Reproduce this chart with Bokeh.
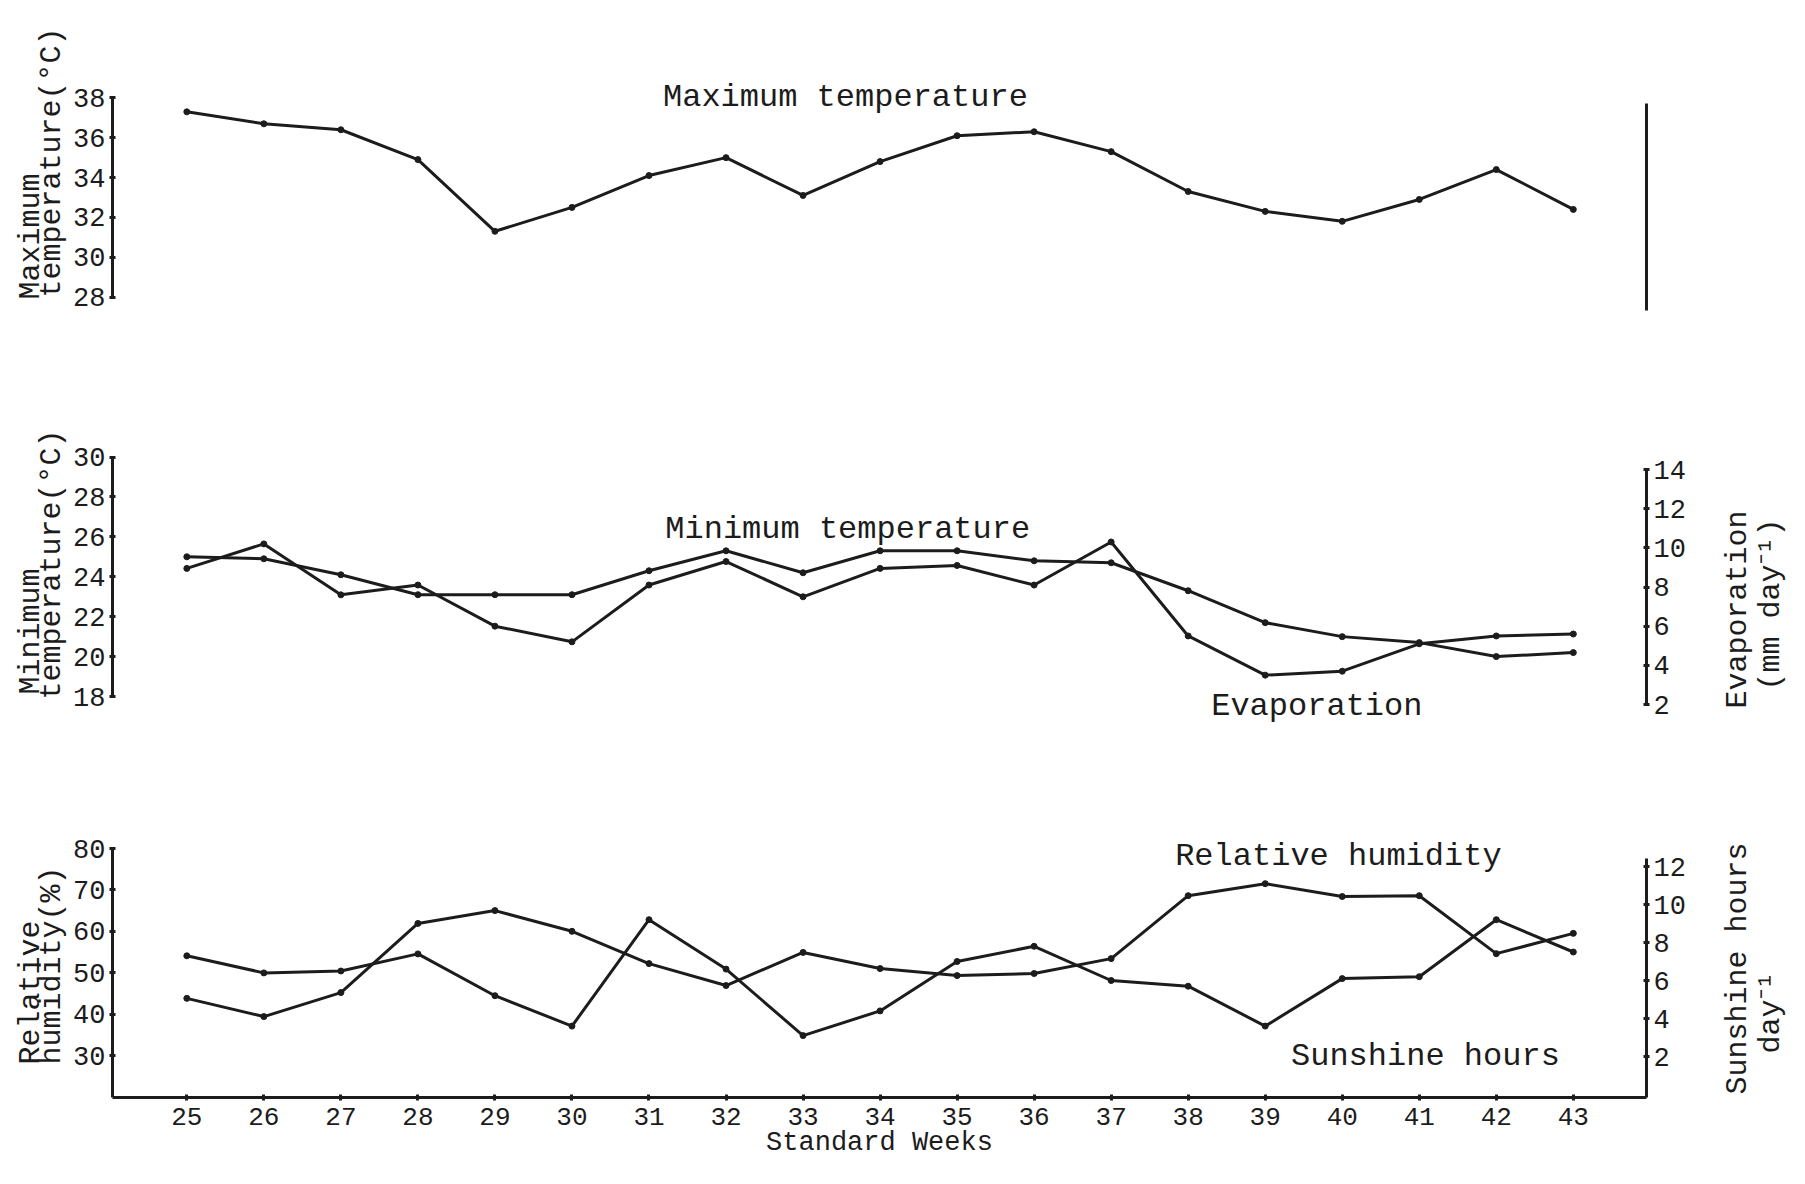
import math
from bokeh.plotting import figure
from bokeh.models import Range1d, LinearAxis, FixedTicker, Label
from bokeh.layouts import column, row
from bokeh.embed import file_html
from bokeh.resources import INLINE

# ---------------- data ----------------
weeks = list(range(25, 44))
week_ticks = weeks
max_temp = [37.3, 36.7, 36.4, 34.9, 31.3, 32.5, 34.1, 35.0, 33.1, 34.8,
            36.1, 36.3, 35.3, 33.3, 32.3, 31.8, 32.9, 34.4, 32.4]
min_temp = [25.0, 24.9, 24.1, 23.1, 23.1, 23.1, 24.3, 25.3, 24.2, 25.3,
            25.3, 24.8, 24.7, 23.3, 21.7, 21.0, 20.7, 20.0, 20.2]
evaporation = [8.95, 10.2, 7.6, 8.1, 6.0, 5.2, 8.1, 9.3, 7.5, 8.95,
               9.1, 8.1, 10.3, 5.5, 3.5, 3.7, 5.1, 5.5, 5.6]
rel_humidity = [43.8, 39.4, 45.2, 61.9, 65.0, 60.0, 52.2, 46.9, 54.9, 51.0,
                49.3, 49.8, 53.4, 68.6, 71.5, 68.4, 68.6, 54.6, 59.5]
sunshine = [7.3, 6.4, 6.5, 7.4, 5.2, 3.6, 9.2, 6.6, 3.1, 4.4,
            7.0, 7.8, 6.0, 5.7, 3.6, 6.1, 6.2, 9.2, 7.5]

max_ticks = [28, 30, 32, 34, 36, 38]
min_ticks = [18, 20, 22, 24, 26, 28, 30]
evap_ticks = [2, 4, 6, 8, 10, 12, 14]
rh_ticks = [30, 40, 50, 60, 70, 80]
sun_ticks = [2, 4, 6, 8, 10, 12]

# ---------------- layout / style ----------------
FONT = "Liberation Mono"
INK = "#1c1c1c"
TICK_FS = "27px"
TXT_FS = "32px"
VT_FS = "30px"                     # rotated axis titles
LW, MW, RW = 70, 1637, 82          # side strips and main plot widths
BL, BR = 41, 61                    # main plot side borders
S = 4                               # whole chart lifted by S px to fit the window
x_range = Range1d(24.035, 43.95)

# rows: (page top, height, border top, border bottom)
ROWS = [(8, 386, 2, 2), (394, 360, 2, 2), (754, 422, 2, 71)]


def frame_of(i):
    top, h, bt, bb = ROWS[i]
    return top + bt, top + h - bb


def rng(v1, y1, v2, y2, i):
    """axis range for row i so that value v1 sits at page y1 and v2 at y2"""
    ft, fb = frame_of(i)
    y1, y2 = y1 - S, y2 - S
    k = (v2 - v1) / (y2 - y1)
    return Range1d(v1 + (fb - y1) * k, v1 + (ft - y1) * k)


def style_axis(ax, ticks, bounds, show_labels=True):
    ax.ticker = FixedTicker(ticks=ticks)
    ax.bounds = bounds
    ax.axis_line_color = INK
    ax.axis_line_width = 3
    ax.major_tick_line_color = INK
    ax.major_tick_line_width = 3
    ax.major_tick_in = 3
    ax.major_tick_out = 3
    ax.minor_tick_line_color = None
    ax.major_label_text_font = FONT
    ax.major_label_text_font_size = TICK_FS
    ax.major_label_text_color = INK
    ax.major_label_standoff = 4
    if not show_labels:
        ax.major_label_text_alpha = 0


def base_fig(i, yr, xaxis=False):
    top, h, bt, bb = ROWS[i]
    p = figure(width=MW, height=h, x_range=x_range, y_range=yr,
               output_backend="svg", toolbar_location=None,
               min_border_left=BL, min_border_right=BR,
               min_border_top=bt, min_border_bottom=bb,
               x_axis_location="below" if xaxis else None,
               y_axis_location="left")
    p.outline_line_color = None
    p.xgrid.visible = False
    p.ygrid.visible = False
    p.border_fill_color = "white"
    return p


def side_fig(i, w, x0, x1):
    # blank strip carrying rotated axis titles, in page-pixel coordinates
    top, h, bt, bb = ROWS[i]
    ft, fb = frame_of(i)
    p = figure(width=w, height=h, x_range=Range1d(x0, x1),
               y_range=Range1d(fb + S, ft + S),
               output_backend="svg", toolbar_location=None,
               x_axis_location=None, y_axis_location=None,
               min_border_left=0, min_border_right=0,
               min_border_top=bt, min_border_bottom=bb)
    p.outline_line_color = None
    p.xgrid.visible = False
    p.ygrid.visible = False
    return p


def txt(p, x, y, s, angle=0.0, align="center", fs=TXT_FS, dy=-9, y_range_name="default"):
    p.add_layout(Label(x=x, y=y, text=s, angle=angle, text_align=align,
                       text_baseline="middle", text_font=FONT,
                       text_font_size=fs, text_color=INK, y_offset=dy,
                       y_range_name=y_range_name))


def vtxt(p, x, y, s):
    txt(p, x, y, s, angle=math.pi / 2, align="left", fs=VT_FS, dy=0)


def series(p, xs, ys, y_range_name="default"):
    p.line(xs, ys, line_color=INK, line_width=3, line_join="round",
           y_range_name=y_range_name)
    p.scatter(xs, ys, size=6, color=INK, y_range_name=y_range_name)


# ---------------- panel 1: maximum temperature ----------------
p1 = base_fig(0, rng(38, 109.4, 28, 308.5, 0))
style_axis(p1.yaxis[0], max_ticks, (28, 38))
r1 = LinearAxis()
style_axis(r1, [], (27.3, 37.7), show_labels=False)
p1.add_layout(r1, "right")
series(p1, weeks, max_temp)
txt(p1, 33.55, 38.47, "Maximum temperature")
l1 = side_fig(0, LW, 8, 78)
vtxt(l1, 38, 311, "Maximum")
vtxt(l1, 59, 309, "temperature(°C)")
s1 = side_fig(0, RW, 1715, 1797)

# ---------------- panel 2: minimum temperature & evaporation ----------------
p2 = base_fig(1, rng(30, 468.5, 18, 708, 1))
p2.extra_y_ranges = {"evap": rng(14, 481, 2, 716, 1)}
style_axis(p2.yaxis[0], min_ticks, (18, 30))
r2 = LinearAxis(y_range_name="evap")
style_axis(r2, evap_ticks, (2, 14))
p2.add_layout(r2, "right")
series(p2, weeks, min_temp)
series(p2, weeks, evaporation, y_range_name="evap")
txt(p2, 33.58, 26.82, "Minimum temperature")
txt(p2, 39.67, 17.95, "Evaporation")
l2 = side_fig(1, LW, 8, 78)
vtxt(l2, 38, 706, "Minimum")
vtxt(l2, 59, 711, "temperature(°C)")
s2 = side_fig(1, RW, 1715, 1797)
vtxt(s2, 1745, 720, "Evaporation")
vtxt(s2, 1778, 702, "(mm day⁻¹)")

# ---------------- panel 3: relative humidity & sunshine ----------------
p3 = base_fig(2, rng(80, 860, 30, 1067, 2), xaxis=True)
p3.extra_y_ranges = {"sun": rng(12, 878, 2, 1068, 2)}
style_axis(p3.yaxis[0], rh_ticks, (19, 80))
r3 = LinearAxis(y_range_name="sun")
style_axis(r3, sun_ticks, (-1, 12.4))
p3.add_layout(r3, "right")
xa = p3.xaxis[0]
style_axis(xa, week_ticks, (24.035, 43.95))
xa.major_label_text_font_size = "26px"
xa.major_label_standoff = 7
xa.axis_label = "Standard Weeks"
xa.axis_label_standoff = 0
xa.axis_label_text_font = FONT
xa.axis_label_text_font_size = "27px"
xa.axis_label_text_font_style = "normal"
xa.axis_label_text_color = INK
series(p3, weeks, rel_humidity)
series(p3, weeks, sunshine, y_range_name="sun")
txt(p3, 39.95, 80.2, "Relative humidity")
txt(p3, 41.08, 31.9, "Sunshine hours")
l3 = side_fig(2, LW, 8, 78)
vtxt(l3, 38, 1076, "Relative")
vtxt(l3, 59, 1076, "humidity(%)")
s3 = side_fig(2, RW, 1715, 1797)
vtxt(s3, 1745, 1106, "Sunshine hours")
vtxt(s3, 1778, 1065, "day⁻¹")

layout = column(row(l1, p1, s1, spacing=0),
                row(l2, p2, s2, spacing=0),
                row(l3, p3, s3, spacing=0), spacing=0)
open("out.html", "w").write(file_html(layout, INLINE))
